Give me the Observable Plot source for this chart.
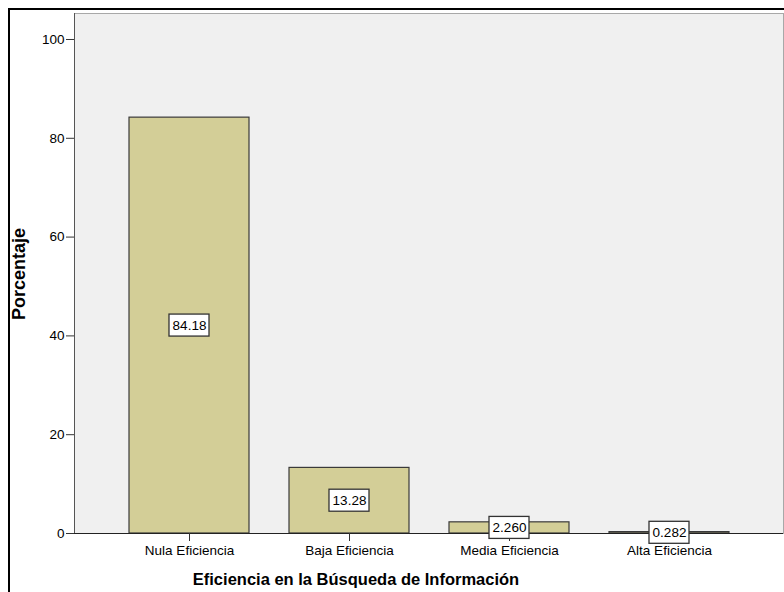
<!DOCTYPE html>
<html>
<head>
<meta charset="utf-8">
<script src="https://cdn.jsdelivr.net/npm/d3@7"></script>
<script src="https://cdn.jsdelivr.net/npm/@observablehq/plot@0.6"></script>
<style>
  html, body { margin: 0; padding: 0; background: #fff; }
  #wrap { position: relative; width: 784px; height: 592px; overflow: hidden; font-family: "Liberation Sans", Arial, sans-serif; }
  #wrap svg { position: absolute; left: 0; top: 0; }
  #border { position: absolute; left: 8px; top: 8px; width: 900px; height: 900px; border-left: 2px solid #000; border-top: 2px solid #000; pointer-events: none; }
  #xtitle { position: absolute; top: 570px; left: 0; width: 712px; text-align: center; font-weight: bold; font-size: 16.5px; color: #000; }
  #ytitle { position: absolute; left: 19px; top: 274px; transform: translate(-50%, -50%) rotate(-90deg); font-weight: bold; font-size: 18px; white-space: nowrap; color: #000; }
</style>
</head>
<body>
<div id="wrap">
  <div id="chart"></div>
  <div id="border"></div>
  <div id="xtitle">Eficiencia en la Búsqueda de Información</div>
  <div id="ytitle">Porcentaje</div>
</div>
<script>
const categories = ["Nula Eficiencia", "Baja Eficiencia", "Media Eficiencia", "Alta Eficiencia"];
const values = [84.18, 13.28, 2.260, 0.282];
const valueLabels = ["84.18", "13.28", "2.260", "0.282"];
const yTicks = [0, 20, 40, 60, 80, 100];

const data = categories.map((c, i) => ({cat: c, v: values[i], label: valueLabels[i]}));

const chart = Plot.plot({
  width: 784,
  height: 592,
  marginLeft: 74,
  marginRight: 1,
  marginTop: 13,
  marginBottom: 59,
  style: {fontFamily: "'Liberation Sans', Arial, sans-serif", fontSize: "13.5px", background: "transparent", color: "#000"},
  x: {domain: categories, paddingInner: 0.25, paddingOuter: 0.34, label: null},
  y: {domain: [0, 105.26], label: null},
  marks: [
    Plot.frame({fill: "#f0f0f0", stroke: "#a8a8a8"}),
    Plot.frame({anchor: "left", stroke: "#555"}),
    Plot.barY(data, {x: "cat", y: "v", fill: "#d3ce97", stroke: "#3a3a3a", strokeWidth: 1.2}),
    Plot.ruleY([0], {stroke: "#222"}),
    Plot.axisY({ticks: yTicks, tickSize: 8, tickPadding: 2, stroke: "#333", fill: "#000", fontSize: 13.5, label: null}),
    Plot.axisX({tickSize: 8, tickPadding: 4, stroke: "#333", fill: "#000", fontSize: 13.5, label: null}),
    Plot.barY(data, {x: "cat", y1: d => d.v / 2, y2: d => d.v / 2, insetLeft: 40, insetRight: 40, insetTop: -11, insetBottom: -11, fill: "#fff", stroke: "#333", strokeWidth: 1.3}),
    Plot.text(data, {x: "cat", y: d => d.v / 2, text: "label", fontSize: 13.5, fill: "#000"})
  ]
});
document.getElementById("chart").appendChild(chart);
</script>
</body>
</html>
